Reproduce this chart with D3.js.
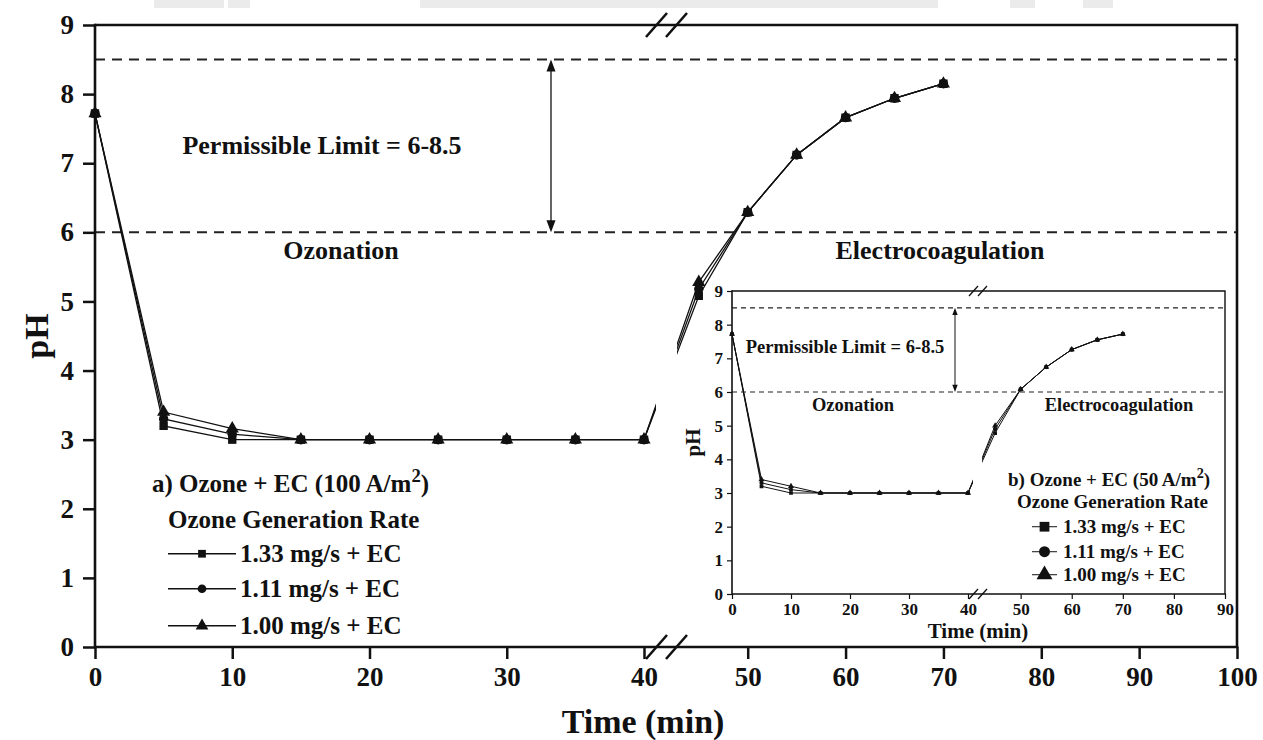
<!DOCTYPE html>
<html>
<head>
<meta charset="utf-8">
<script src="https://cdn.jsdelivr.net/npm/d3@7"></script>
<style>
  html, body { margin: 0; padding: 0; background: #fff; }
  svg { display: block; }
  text { font-family: "Liberation Serif", "Times New Roman", serif; font-weight: bold; fill: #111; }
</style>
</head>
<body>
<svg id="chart" width="1263" height="740"></svg>
<script>
// Sampling times (min)
const times = [0, 5, 10, 15, 20, 25, 30, 35, 40, 45, 50, 55, 60, 65, 70];

// pH, ozone + EC at 100 A/m2
const phA_133 = [7.72, 3.20, 3.00, 3.00, 3.00, 3.00, 3.00, 3.00, 3.00, 5.08, 6.29, 7.12, 7.66, 7.94, 8.15];
const phA_111 = [7.72, 3.30, 3.08, 3.00, 3.00, 3.00, 3.00, 3.00, 3.00, 5.18, 6.29, 7.12, 7.66, 7.94, 8.15];
const phA_100 = [7.72, 3.40, 3.16, 3.00, 3.00, 3.00, 3.00, 3.00, 3.00, 5.28, 6.29, 7.12, 7.66, 7.94, 8.15];

// pH, ozone + EC at 50 A/m2
const phB_133 = [7.72, 3.20, 3.00, 3.00, 3.00, 3.00, 3.00, 3.00, 3.00, 4.78, 6.08, 6.74, 7.26, 7.55, 7.72];
const phB_111 = [7.72, 3.30, 3.10, 3.00, 3.00, 3.00, 3.00, 3.00, 3.00, 4.90, 6.08, 6.74, 7.26, 7.55, 7.72];
const phB_100 = [7.72, 3.40, 3.20, 3.00, 3.00, 3.00, 3.00, 3.00, 3.00, 5.00, 6.08, 6.74, 7.26, 7.55, 7.72];

const seriesLabels = ["1.33 mg/s + EC", "1.11 mg/s + EC", "1.00 mg/s + EC"];
const limits = [6, 8.5];

// Tick labels
const yTicks = [0, 1, 2, 3, 4, 5, 6, 7, 8, 9];
const xTicksLeft = [0, 10, 20, 30, 40];
const xTicksRightMain = [50, 60, 70, 80, 90, 100];
const xTicksRightInset = [50, 60, 70, 80, 90];

const symbols = [d3.symbolSquare, d3.symbolCircle, d3.symbolTriangle];

const svg = d3.select("#chart");

// faint band along the top edge
const band = svg.append("g").attr("fill", "#ebebeb");
[[420, 518], [154, 70], [228, 22], [1010, 25], [1083, 30]].forEach(([x, w]) => {
  band.append("rect").attr("x", x).attr("y", 0).attr("width", w).attr("height", 8);
});

// Draws one broken-axis panel
function panel(opt) {
  const g = svg.append("g");
  const xL = d3.scaleLinear().domain([0, 40]).range(opt.xLeftRange);
  const xR = d3.scaleLinear().domain([44, opt.xMax]).range(opt.xRightRange);
  const xAt = t => (t <= 40 ? xL(t) : xR(t));
  const y = d3.scaleLinear().domain([0, 9]).range(opt.yRange);
  const [x0, x1] = [opt.xLeftRange[0], opt.xRightRange[1]];
  const [yB, yT] = opt.yRange;

  if (opt.fill) {
    g.append("rect").attr("x", x0).attr("y", yT).attr("width", x1 - x0).attr("height", yB - yT).attr("fill", "#fff");
  }

  // clip hides the series inside the break gap
  const clipId = "clip" + opt.id;
  const cp = svg.append("clipPath").attr("id", clipId);
  cp.append("rect").attr("x", x0 - 20).attr("y", yT - 20).attr("width", xL(40) + opt.gapL - (x0 - 20)).attr("height", yB - yT + 40);
  cp.append("rect").attr("x", xR(44) - opt.gapR).attr("y", yT - 20).attr("width", x1 + 20 - (xR(44) - opt.gapR)).attr("height", yB - yT + 40);

  // limit lines
  limits.forEach(v => {
    g.append("line").attr("x1", x0).attr("x2", x1).attr("y1", y(v)).attr("y2", y(v))
      .attr("stroke", "#222").attr("stroke-width", opt.dashW).attr("stroke-dasharray", opt.dash);
  });

  // double-headed arrow between the limits
  const ax = opt.arrowX;
  const ah = opt.arrowHead;
  g.append("line").attr("x1", ax).attr("x2", ax).attr("y1", y(8.5) + ah).attr("y2", y(6) - ah)
    .attr("stroke", "#111").attr("stroke-width", opt.lineW);
  g.append("path").attr("d", `M${ax},${y(8.5)} l${-ah * 0.45},${ah * 1.2} l${ah * 0.9},0 Z`).attr("fill", "#111");
  g.append("path").attr("d", `M${ax},${y(6)} l${-ah * 0.45},${-ah * 1.2} l${ah * 0.9},0 Z`).attr("fill", "#111");

  // annotations
  const ann = g.append("g").attr("font-size", opt.annSize);
  ann.append("text").attr("x", opt.permX).attr("y", opt.permY).attr("text-anchor", "middle").text("Permissible Limit = 6-8.5");
  ann.append("text").attr("x", opt.ozoX).attr("y", opt.phaseY).attr("text-anchor", "middle").text("Ozonation");
  ann.append("text").attr("x", opt.ecX).attr("y", opt.phaseY).attr("text-anchor", "middle").text("Electrocoagulation");

  // series
  const line = d3.line().x((d, i) => xAt(times[i])).y(d => y(d));
  const sg = g.append("g").attr("clip-path", `url(#${clipId})`);
  opt.series.forEach(vals => {
    sg.append("path").attr("d", line(vals)).attr("fill", "none").attr("stroke", "#111").attr("stroke-width", opt.lineW);
  });
  opt.series.forEach((vals, k) => {
    sg.append("g").selectAll("path").data(vals).join("path")
      .attr("transform", (d, i) => `translate(${xAt(times[i])},${y(d)})`)
      .attr("d", d3.symbol().type(symbols[k]).size(opt.markSize[k]))
      .attr("fill", "#111");
  });

  // axes
  const axG = g.append("g");
  const yAxis = axG.append("g").attr("transform", `translate(${x0},0)`)
    .call(d3.axisLeft(y).tickValues(yTicks).tickSize(opt.tickLen).tickPadding(opt.tickPad).tickFormat(d3.format("d")));
  const xAxL = axG.append("g").attr("transform", `translate(0,${yB})`)
    .call(d3.axisBottom(xL).tickValues(xTicksLeft).tickSize(opt.tickLen).tickPadding(opt.tickPadX).tickFormat(d3.format("d")));
  const xAxR = axG.append("g").attr("transform", `translate(0,${yB})`)
    .call(d3.axisBottom(xR).tickValues(opt.xTicksRight).tickSize(opt.tickLen).tickPadding(opt.tickPadX).tickFormat(d3.format("d")));
  [yAxis, xAxL, xAxR].forEach(a => {
    a.attr("font-size", opt.tickSize).attr("font-family", null);
    a.select(".domain").remove();
    a.selectAll("line").attr("stroke", "#111").attr("stroke-width", opt.tickW);
    a.selectAll("text").attr("fill", "#111");
  });

  // frame
  const fr = g.append("g").attr("stroke", "#111").attr("stroke-width", opt.frameW).attr("fill", "none");
  fr.append("path").attr("d", `M${x0},${yT} L${x0},${yB} L${x1},${yB}`).attr("stroke-linecap", "square");
  fr.append("path").attr("d", `M${x0},${yT} L${x1},${yT} L${x1},${yB}`).attr("stroke-width", opt.frameTopW);

  // break marks on bottom and top
  const bx = xL(40) + opt.slashOff;
  [yB, yT].forEach(yy => {
    [0, opt.slashGap].forEach(dx => {
      fr.append("line").attr("x1", bx + dx).attr("y1", yy + opt.slashH / 2)
        .attr("x2", bx + dx + opt.slashW).attr("y2", yy - opt.slashH / 2)
        .attr("stroke-width", opt.slashStroke);
    });
  });

  // axis titles
  g.append("text").attr("font-size", opt.titleSize)
    .attr("transform", `translate(${opt.yTitleX},${(yB + yT) / 2}) rotate(-90)`)
    .attr("text-anchor", "middle").text("pH");
  g.append("text").attr("font-size", opt.titleSize).attr("x", opt.xTitleX).attr("y", opt.xTitleY)
    .attr("text-anchor", "middle").text("Time (min)");

  // legend
  const lg = g.append("g").attr("font-size", opt.legSize);
  const t = lg.append("text").attr("x", opt.legTitleX).attr("y", opt.legY[0]);
  t.append("tspan").text(opt.legTitle);
  t.append("tspan").attr("font-size", opt.legSize * 0.75).attr("dy", -opt.legSize * 0.4).text("2");
  t.append("tspan").attr("dy", opt.legSize * 0.4).text(")");
  lg.append("text").attr("x", opt.legSubX).attr("y", opt.legY[1]).text("Ozone Generation Rate");
  seriesLabels.forEach((lab, k) => {
    const cy = opt.legY[2 + k] - opt.legSize * 0.33;
    lg.append("line").attr("x1", opt.legLine[0]).attr("x2", opt.legLine[1]).attr("y1", cy).attr("y2", cy)
      .attr("stroke", "#111").attr("stroke-width", opt.lineW);
    lg.append("path").attr("transform", `translate(${(opt.legLine[0] + opt.legLine[1]) / 2},${cy})`)
      .attr("d", d3.symbol().type(symbols[k]).size(opt.legMark[k])).attr("fill", "#111");
    lg.append("text").attr("x", opt.legTextX).attr("y", opt.legY[2 + k]).text(lab);
  });
}

// a) main chart
panel({
  id: "A",
  series: [phA_133, phA_111, phA_100],
  xLeftRange: [95, 644], xRightRange: [689, 1237], xMax: 100,
  yRange: [647, 25],
  xTicksRight: xTicksRightMain,
  gapL: 12, gapR: 12,
  dash: "10,7", dashW: 2,
  arrowX: 551, arrowHead: 10,
  annSize: 26, permX: 322, permY: 154, ozoX: 341, ecX: 940, phaseY: 259,
  lineW: 1.3, markSize: [70, 70, 75],
  tickSize: 27, tickLen: 12, tickPad: 9, tickPadX: 8, tickW: 2.5,
  frameW: 2.6, frameTopW: 2.6,
  slashOff: 2, slashGap: 20, slashW: 21, slashH: 24, slashStroke: 2.5,
  titleSize: 34, yTitleX: 48, xTitleX: 643, xTitleY: 733,
  legSize: 25, legTitle: "a) Ozone + EC (100 A/m", legTitleX: 152, legSubX: 168,
  legY: [492, 528, 562, 597, 634], legLine: [168, 236], legTextX: 240, legMark: [60, 60, 70]
});

// b) inset chart
panel({
  id: "B",
  fill: true,
  series: [phB_133, phB_111, phB_100],
  xLeftRange: [732, 968], xRightRange: [990, 1225], xMax: 90,
  yRange: [594, 291],
  xTicksRight: xTicksRightInset,
  gapL: 5, gapR: 8,
  dash: "5,4", dashW: 1.2,
  arrowX: 955, arrowHead: 6,
  annSize: 18.5, permX: 845, permY: 353, ozoX: 853, ecX: 1119, phaseY: 411,
  lineW: 1, markSize: [14, 14, 16],
  tickSize: 17, tickLen: 5, tickPad: 4, tickPadX: 4, tickW: 1.2,
  frameW: 1.6, frameTopW: 1.4,
  slashOff: 1, slashGap: 9, slashW: 9, slashH: 10, slashStroke: 1.3,
  titleSize: 21, yTitleX: 700, xTitleX: 978, xTitleY: 638,
  legSize: 19, legTitle: "b) Ozone + EC (50 A/m", legTitleX: 1008, legSubX: 1017,
  legY: [486, 508, 533, 558, 581], legLine: [1032, 1057], legTextX: 1063, legMark: [95, 95, 110]
});
</script>
</body>
</html>
